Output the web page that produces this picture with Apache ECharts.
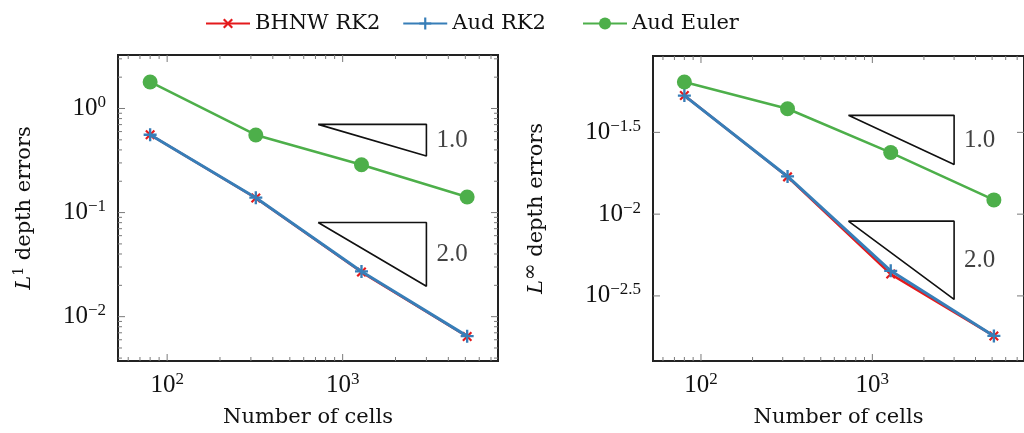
<!DOCTYPE html>
<html>
<head>
<meta charset="utf-8">
<script src="https://cdn.jsdelivr.net/npm/echarts@6/dist/echarts.min.js"></script>
<style>
  html, body { margin: 0; padding: 0; background: #fff; }
  #main { width: 1024px; height: 433px; }
  #err { position: absolute; left: 0; top: 0; font: 12px monospace; color: red; }
</style>
</head>
<body>
<div id="main"></div>
<div id="err"></div>
<script>
// data (log-log convergence plots)
var cells = [80, 320, 1280, 5120];

var l1BhnwRk2  = [0.56, 0.138, 0.0268, 0.00645];
var l1AudRk2   = [0.56, 0.139, 0.0272, 0.00650];
var l1AudEuler = [1.80, 0.557, 0.288, 0.141];

var linfBhnwRk2  = [0.0531, 0.0169, 0.00430, 0.00180];
var linfAudRk2   = [0.0531, 0.0170, 0.00450, 0.00180];
var linfAudEuler = [0.0643, 0.0441, 0.0238, 0.01222];

// slope triangles: [x left, x right], [y top, y bottom]
var triX = [725, 3000];
var l1Tri1 = [0.704, 0.349];
var l1Tri2 = [0.0803, 0.0196];
var linfTri1 = [0.0402, 0.0201];
var linfTri2 = [0.00906, 0.00301];
var triLabels = ['1.0', '2.0'];

// axis ranges (log10 space)
var xRange = [1.72, 3.885];
var l1YRange = [-2.426, 0.514];
var linfYRange = [-2.898, -1.033];
var xLabelVals = [2, 3];
var l1YLabelVals = [-2, -1, 0];
var linfYLabelVals = [-2.5, -2, -1.5];

var red = '#e41a1c', blue = '#377eb8', green = '#4daf4a';
var serif = 'Liberation Serif';
var textFont = 'DejaVu Serif';
var plusPath = 'path://M4.1,0H5.9V4.1H10V5.9H5.9V10H4.1V5.9H0V4.1H4.1Z';

function lg(v) { return Math.log10(v); }
function pts(ys) { return cells.map(function (c, i) { return [lg(c), lg(ys[i])]; }); }

var supRich = {
  b: { fontFamily: serif, fontSize: 25, color: '#111' },
  s: { fontFamily: serif, fontSize: 17, color: '#111', padding: [0, 0, 12, 0] }
};
function powLabel(v) {
  return '{b|10}{s|' + String(v).replace('-', '\u2212') + '}';
}

// tick marks on all four sides (log spaced minors)
function tickData(xr, yr, yMinor) {
  var out = [];
  for (var e = 1; e <= 4; e++) {
    for (var k = 1; k <= 9; k++) {
      var v = e + lg(k);
      if (v > xr[0] && v < xr[1]) out.push([v, yr[0], k === 1 ? 1 : 0, 0]);
    }
  }
  for (var e2 = -4; e2 <= 1; e2++) {
    for (var k2 = 1; k2 <= 9; k2++) {
      var w = e2 + lg(k2);
      if (w > yr[0] && w < yr[1] && (yMinor || k2 === 1)) out.push([xr[0], w, k2 === 1 ? 1 : 0, 1]);
    }
  }
  return out;
}
function halfTicks(xr, vals) {
  return vals.map(function (v) { return [xr[0], v, 1, 1]; });
}
function tickRender(xr, yr) {
  return function (params, api) {
    try {
      var major = +api.value(2), kind = +api.value(3);
      var len = major ? 7 : 4;
      var st = { stroke: '#7a7a7a', lineWidth: 1, fill: null };
      if (kind === 0) {
        var b = api.coord([api.value(0), yr[0]]), t = api.coord([api.value(0), yr[1]]);
        return { type: 'group', children: [
          { type: 'line', shape: { x1: b[0], y1: b[1], x2: b[0], y2: b[1] - len }, style: st },
          { type: 'line', shape: { x1: t[0], y1: t[1], x2: t[0], y2: t[1] + len }, style: st }
        ] };
      }
      var l = api.coord([xr[0], api.value(1)]), r = api.coord([xr[1], api.value(1)]);
      return { type: 'group', children: [
        { type: 'line', shape: { x1: l[0], y1: l[1], x2: l[0] + len, y2: l[1] }, style: st },
        { type: 'line', shape: { x1: r[0], y1: r[1], x2: r[0] - len, y2: r[1] }, style: st }
      ] };
    } catch (e) {
      document.getElementById('err').textContent = String(e);
    }
  };
}
function tickSeries(idx, yr, data) {
  return {
    type: 'custom', xAxisIndex: idx, yAxisIndex: idx, silent: true, clip: false, z: 10,
    dimensions: ['x', 'y', 'major', 'kind'], encode: { x: 0, y: 1 },
    data: data, renderItem: tickRender(xRange, yr)
  };
}

function triangle(idx, ys) {
  var x0 = lg(triX[0]), x1 = lg(triX[1]), y0 = lg(ys[0]), y1 = lg(ys[1]);
  return {
    type: 'line', xAxisIndex: idx, yAxisIndex: idx, silent: true, symbol: 'none',
    lineStyle: { color: '#111', width: 1.6 }, z: 1,
    data: [[x0, y0], [x1, y0], [x1, y1], [x0, y0]]
  };
}
function triLabel(idx, tris) {
  return {
    type: 'scatter', xAxisIndex: idx, yAxisIndex: idx, silent: true, symbolSize: 0,
    data: tris.map(function (ys, i) {
      return [lg(triX[1]), (lg(ys[0]) + lg(ys[1])) / 2, triLabels[i]];
    }),
    label: {
      show: true, position: 'right', distance: 10, color: '#111',
      fontFamily: serif, fontSize: 25,
      formatter: function (p) { return p.value[2]; }
    }
  };
}

function lineSeries(idx, name, ys, color, symbol, size, rot, width, z) {
  return {
    type: 'line', name: name, xAxisIndex: idx, yAxisIndex: idx,
    data: pts(ys), symbol: symbol, symbolSize: size, symbolRotate: rot,
    showAllSymbol: true, z: z,
    lineStyle: { color: color, width: width },
    itemStyle: { color: color }
  };
}

function xAxis(idx) {
  return {
    type: 'value', gridIndex: idx, min: xRange[0], max: xRange[1],
    axisLine: { show: false }, axisTick: { show: false }, splitLine: { show: false },
    axisLabel: { customValues: xLabelVals, formatter: powLabel, rich: supRich, margin: 10 },
    name: 'Number of cells', nameLocation: 'middle', nameGap: 46,
    nameTextStyle: { fontFamily: textFont, fontSize: 21, color: '#111' }
  };
}
function yAxis(idx, yr, vals, sup, supSize, gap) {
  return {
    type: 'value', gridIndex: idx, min: yr[0], max: yr[1],
    axisLine: { show: false }, axisTick: { show: false }, splitLine: { show: false },
    axisLabel: { customValues: vals, formatter: powLabel, rich: supRich, margin: 12 },
    name: '{i|L}{s|' + sup + '}{n| depth errors}', nameLocation: 'middle', nameRotate: 90, nameGap: gap,
    nameTextStyle: {
      rich: {
        i: { fontFamily: textFont, fontStyle: 'italic', fontSize: 21, color: '#111' },
        s: { fontFamily: textFont, fontSize: supSize, color: '#111', padding: [0, 0, 12, 0] },
        n: { fontFamily: textFont, fontSize: 21, color: '#111' }
      }
    }
  };
}

var myChart = echarts.init(document.getElementById('main'));
var option = {
  animation: false,
  legend: [{
    data: ['BHNW RK2', 'Aud RK2'], left: 200, top: 8, itemWidth: 44, itemHeight: 15, itemGap: 22,
    textStyle: { fontFamily: textFont, fontSize: 21, color: '#111' }
  }, {
    data: ['Aud Euler'], left: 577, top: 8, itemWidth: 44, itemHeight: 15,
    textStyle: { fontFamily: textFont, fontSize: 21, color: '#111' }
  }],
  grid: [
    { left: 118, top: 55, width: 380, height: 309, show: true, borderColor: '#222', borderWidth: 2 },
    { left: 653, top: 56, width: 381, height: 309, show: true, borderColor: '#222', borderWidth: 2 }
  ],
  xAxis: [xAxis(0), xAxis(1)],
  yAxis: [yAxis(0, l1YRange, l1YLabelVals, '1', 14, 80), yAxis(1, linfYRange, linfYLabelVals, '\u221e', 20, 100)],
  series: [
    tickSeries(0, l1YRange, tickData(xRange, l1YRange, true)),
    tickSeries(1, linfYRange, tickData(xRange, linfYRange, false).filter(function (d) { return d[3] === 0; })
      .concat(halfTicks(xRange, linfYLabelVals))),
    triangle(0, l1Tri1), triangle(0, l1Tri2), triLabel(0, [l1Tri1, l1Tri2]),
    triangle(1, linfTri1), triangle(1, linfTri2), triLabel(1, [linfTri1, linfTri2]),
    lineSeries(0, 'BHNW RK2', l1BhnwRk2, red, plusPath, 12, 45, 2.5, 3),
    lineSeries(0, 'Aud RK2', l1AudRk2, blue, plusPath, 13, 0, 3, 4),
    lineSeries(0, 'Aud Euler', l1AudEuler, green, 'circle', 15, 0, 2.5, 5),
    lineSeries(1, 'BHNW RK2', linfBhnwRk2, red, plusPath, 12, 45, 2.5, 3),
    lineSeries(1, 'Aud RK2', linfAudRk2, blue, plusPath, 13, 0, 3, 4),
    lineSeries(1, 'Aud Euler', linfAudEuler, green, 'circle', 15, 0, 2.5, 5)
  ]
};
myChart.setOption(option);
</script>
</body>
</html>
